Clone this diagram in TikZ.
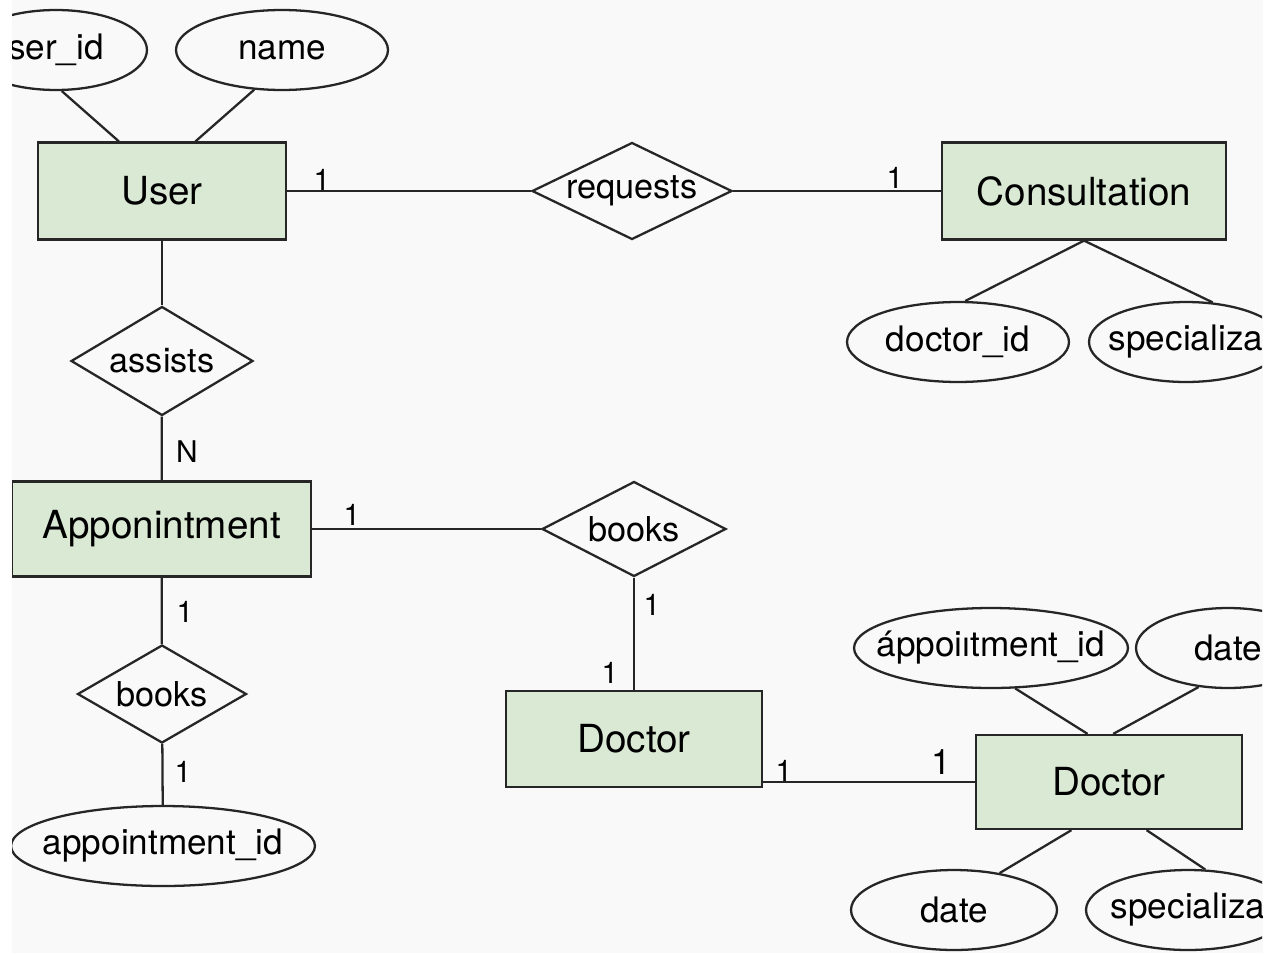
\documentclass[tikz,border=0pt]{standalone}
\usepackage{fontspec}
\setmainfont{TeX Gyre Heros}
\usetikzlibrary{shapes.geometric}
\definecolor{entfill}{HTML}{D9E9D4}
\definecolor{edge}{HTML}{262626}
\definecolor{paper}{HTML}{F9F9F9}
\begin{document}
\begin{tikzpicture}[x=0.02cm, y=-0.02cm,
  entity/.style={rectangle, draw=edge, fill=entfill, line width=1.3pt, inner sep=0pt, font=\fontsize{22}{26}\selectfont},
  attr/.style={ellipse, draw=edge, fill=paper, line width=1.3pt, inner ysep=0pt, inner xsep=-10pt, minimum height=1.6cm, font=\fontsize{20}{24}\selectfont},
  rel/.style={diamond, draw=edge, fill=paper, line width=1.3pt, inner sep=0pt, shape aspect=2, font=\fontsize{19.5}{23}\selectfont},
  card/.style={inner sep=0pt, font=\fontsize{17}{20}\selectfont}]
  \useasboundingbox (0,0) rectangle (1273,953);
  \fill[white] (0,0) rectangle (1273,953);
  \fill[paper] (12,0) rectangle (1263,953);
  \begin{scope}
    \clip (12,0) rectangle (1262,953);
    % entities
    \node[entity, minimum width=4.96cm, minimum height=1.94cm] (user) at (162,191) {User};
    \node[entity, minimum width=5.68cm, minimum height=1.94cm] (consult) at (1084,191) {Consultation};
    \node[entity, minimum width=5.98cm, minimum height=1.90cm] (appt) at (161.5,529) {Apponintment};
    \node[entity, minimum width=5.12cm, minimum height=1.92cm] (doc1) at (634,739) {Doctor};
    \node[entity, minimum width=5.32cm, minimum height=1.88cm] (doc2) at (1109,782) {Doctor};
    % relationships
    \node[rel, minimum width=4.00cm, minimum height=1.94cm] (requests) at (632,191) {requests};
    \node[rel, minimum width=3.64cm, minimum height=2.18cm] (assists) at (162,361) {assists};
    \node[rel, minimum width=3.68cm, minimum height=1.90cm] (books1) at (634,529) {books};
    \node[rel, minimum width=3.38cm, minimum height=1.96cm] (books2) at (162,694) {books};
    % attributes
    \node[attr, minimum width=3.64cm] (userid) at (56,50) {ser\_id};
    \node[attr, minimum width=4.24cm] (name) at (282,50) {name};
    \node[attr, minimum width=4.44cm] (doctorid) at (958,342) {doctor\_id};
    \node[attr, minimum width=3.88cm] (spec1) at (1186,342) {specializa};
    \node[attr, minimum width=5.48cm] (appid2) at (991,648) {áppoiıtment\_id};
    \node[attr, minimum width=3.68cm] (date1) at (1228,648) {date};
    \node[attr, minimum width=4.12cm] (date2) at (954,910) {date};
    \node[attr, minimum width=4.08cm] (spec2) at (1188,910) {specializa};
    \node[attr, minimum width=6.08cm] (appid1) at (163,846) {appointment\_id};
    % connectors
    \begin{scope}[draw=edge, line width=1.3pt]
      \draw (userid.-82) -- (user.131);
      \draw (name.235) -- (user.56);
      \draw (user) -- (requests);
      \draw (requests) -- (consult);
      \draw (consult.south) -- (doctorid.80);
      \draw (consult.south) -- (spec1.56);
      \draw (user) -- (assists);
      \draw (assists) -- (appt);
      \draw (appt) -- (books1);
      \draw (books1) -- (doc1);
      \draw (doc1.east |- doc2.west) -- (doc2.west);
      \draw (appid2.-59) -- (doc2.114);
      \draw (date1.233) -- (doc2.85);
      \draw (doc2.232) -- (date2.39);
      \draw (doc2.-52) -- (spec2.67);
      \draw (appt) -- (books2);
      \draw (books2) -- (appid1);
    \end{scope}
    % cardinalities
    \node[card] (c1) at (322,180) {1};
    \node[card] (c2) at (895,178) {1};
    \node[card] (cN) at (187,452) {N};
    \node[card] (c3) at (352,515) {1};
    \node[card] (c4) at (652,605) {1};
    \node[card] (c5) at (610,673) {1};
    \node[card] (c6) at (784,771) {1};
    \node[card, font=\fontsize{20}{24}\selectfont] (c7) at (941,762) {1};
    \node[card] (c8) at (185,612) {1};
    \node[card] (c9) at (183,772) {1};
  \end{scope}
\end{tikzpicture}
\end{document}
